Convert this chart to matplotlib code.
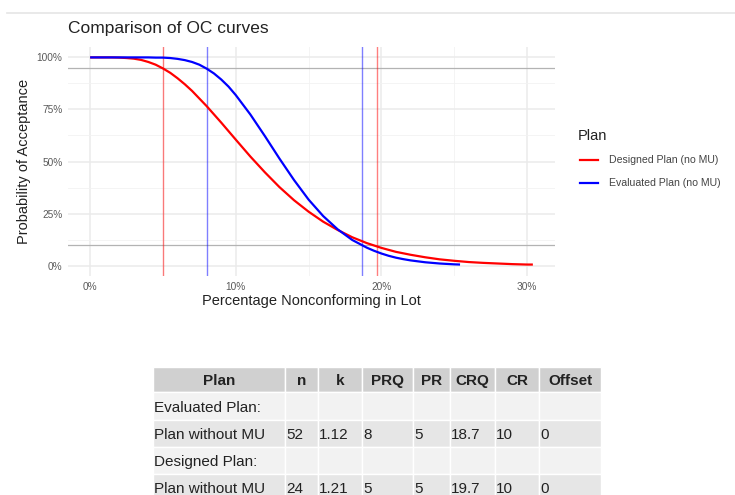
import matplotlib
matplotlib.use("Agg")
import matplotlib.pyplot as plt
from matplotlib.patches import Rectangle
from matplotlib.lines import Line2D

plt.rcParams['font.family'] = ['Liberation Sans', 'DejaVu Sans']

# OC curve points: percent nonconforming vs probability of acceptance
designed_p = [0, 1, 1.5, 2, 2.5, 3, 3.5, 4, 4.5, 5, 5.5, 6, 6.5, 7, 8, 9, 10,
              11, 12, 13, 14, 15, 16, 17, 18, 19, 20, 21, 22, 23, 24, 25, 26,
              27, 28, 29, 30, 30.4]
designed_pa = [1.000, 1.000, 1.000, 0.999, 0.997, 0.994, 0.988, 0.978, 0.965,
               0.947, 0.926, 0.900, 0.871, 0.839, 0.766, 0.687, 0.605, 0.524,
               0.448, 0.377, 0.314, 0.259, 0.211, 0.171, 0.136, 0.108, 0.085,
               0.066, 0.052, 0.040, 0.030, 0.023, 0.017, 0.013, 0.010, 0.007,
               0.005, 0.005]

evaluated_p = [0, 1, 2, 3, 3.5, 4, 4.5, 5, 5.5, 6, 6.5, 7, 7.5, 8, 8.5, 9, 9.5,
               10, 11, 12, 13, 14, 15, 16, 17, 18, 19, 19.5, 20, 20.5, 21, 21.5,
               22, 23, 24, 25, 25.4]
evaluated_pa = [1.000, 1.000, 1.000, 1.000, 1.000, 1.000, 0.999, 0.999, 0.997,
                0.993, 0.987, 0.978, 0.965, 0.946, 0.923, 0.894, 0.860, 0.819,
                0.726, 0.622, 0.514, 0.411, 0.317, 0.238, 0.174, 0.123, 0.086,
                0.071, 0.058, 0.047, 0.038, 0.031, 0.025, 0.016, 0.010, 0.006,
                0.005]

# Plan table
table_columns = ["Plan", "n", "k", "PRQ", "PR", "CRQ", "CR", "Offset"]
table_rows = [
    ["Evaluated Plan:", "", "", "", "", "", "", ""],
    ["Plan without MU", "52", "1.12", "8", "5", "18.7", "10", "0"],
    ["Designed Plan:", "", "", "", "", "", "", ""],
    ["Plan without MU", "24", "1.21", "5", "5", "19.7", "10", "0"],
]

# Quality levels used for the reference lines
designed_prq, designed_crq = 5, 19.7
evaluated_prq, evaluated_crq = 8, 18.7
producer_risk, consumer_risk = 5, 10

W, H = 735, 495
fig = plt.figure(figsize=(W / 100, H / 100), dpi=100)

def fx(px):
    return px / W

def fy(py):
    return 1 - py / H

# Separator line at the top of the page
fig.add_artist(Line2D([fx(7), fx(735)], [fy(13), fy(13)], color="#e5e5e5", lw=1.2))

# Plot panel
left, right, top, bottom = 68, 555, 47, 276
ax = fig.add_axes([fx(left), fy(bottom), fx(right - left), (bottom - top) / H])
ax.set_facecolor("white")
for s in ax.spines.values():
    s.set_visible(False)

xmin, xmax = 0, 30.4
pad = 0.05 * (xmax - xmin)
ax.set_xlim(xmin - pad, xmax + pad)
ax.set_ylim(-0.05, 1.05)

# Grid (major and minor)
for v in [5, 15, 25]:
    ax.axvline(v, color="#f2f2f2", lw=0.6, zorder=0)
for v in [0, 10, 20, 30]:
    ax.axvline(v, color="#ebebeb", lw=1.1, zorder=0)
for v in [0.125, 0.375, 0.625, 0.875]:
    ax.axhline(v, color="#f2f2f2", lw=0.6, zorder=0)
for v in [0, 0.25, 0.5, 0.75, 1.0]:
    ax.axhline(v, color="#ebebeb", lw=1.1, zorder=0)

# Risk levels
ax.axhline(1 - producer_risk / 100, color="#b3b3b3", lw=0.9, zorder=1)
ax.axhline(consumer_risk / 100, color="#b3b3b3", lw=0.9, zorder=1)

# Quality levels
ax.axvline(designed_prq, color="red", alpha=0.5, lw=1.0, zorder=1)
ax.axvline(designed_crq, color="red", alpha=0.5, lw=1.0, zorder=1)
ax.axvline(evaluated_prq, color="blue", alpha=0.5, lw=1.0, zorder=1)
ax.axvline(evaluated_crq, color="blue", alpha=0.5, lw=1.0, zorder=1)

ax.plot(designed_p, designed_pa, color="red", lw=1.6, zorder=3,
        solid_capstyle="butt", solid_joinstyle="round")
ax.plot(evaluated_p, evaluated_pa, color="blue", lw=1.6, zorder=3,
        solid_capstyle="butt", solid_joinstyle="round")

ax.set_xticks([0, 10, 20, 30])
ax.set_xticklabels(["0%", "10%", "20%", "30%"])
ax.set_yticks([0, 0.25, 0.5, 0.75, 1.0])
ax.set_yticklabels(["0%", "25%", "50%", "75%", "100%"])
ax.tick_params(length=0, labelsize=7.3, labelcolor="#5a5a5a", pad=4)

ax.set_xlabel("Percentage Nonconforming in Lot", fontsize=10.5, color="#222222",
              labelpad=2)
ax.set_ylabel("Probability of Acceptance", fontsize=10.5, color="#222222",
              labelpad=4)

fig.text(fx(68), fy(28), "Comparison of OC curves", fontsize=12.5,
         color="#222222", va="center", ha="left")

# Legend
fig.text(fx(578), fy(136), "Plan", fontsize=10.5, color="#222222", va="center")
legend_items = [("Designed Plan (no MU)", "red", 160),
                ("Evaluated Plan (no MU)", "blue", 183)]
for label, col, y in legend_items:
    fig.add_artist(Line2D([fx(580), fx(598)], [fy(y), fy(y)], color=col, lw=1.6))
    fig.text(fx(609), fy(y), label, fontsize=7.6, color="#444444", va="center")

# Table
col_edges = [153, 285, 318, 362, 413, 450, 495, 539, 601]
row_edges = [367, 392, 420, 447, 474, 501]
row_colors = ["#f2f2f2", "#e6e6e6", "#f2f2f2", "#e6e6e6"]
header_color = "#d0d0d0"

def cell(x0, x1, y0, y1, color):
    fig.add_artist(Rectangle((fx(x0), fy(y1)), fx(x1 - x0), (y1 - y0) / H,
                             facecolor=color, edgecolor="white", lw=1.0))

for j, name in enumerate(table_columns):
    x0, x1 = col_edges[j], col_edges[j + 1]
    cell(x0, x1, row_edges[0], row_edges[1], header_color)
    fig.text(fx((x0 + x1) / 2), fy((row_edges[0] + row_edges[1]) / 2 + 5.5), name,
             fontsize=11, fontweight="bold", color="#222222",
             ha="center", va="baseline")

for i, row in enumerate(table_rows):
    y0, y1 = row_edges[i + 1], row_edges[i + 2]
    for j, val in enumerate(row):
        x0, x1 = col_edges[j], col_edges[j + 1]
        cell(x0, x1, y0, y1, row_colors[i])
        if val:
            fig.text(fx(x0 + 1), fy((y0 + y1) / 2 + 5.5), val, fontsize=11,
                     color="#222222", ha="left", va="baseline")

fig.savefig("out.png", dpi=100, facecolor="white")
